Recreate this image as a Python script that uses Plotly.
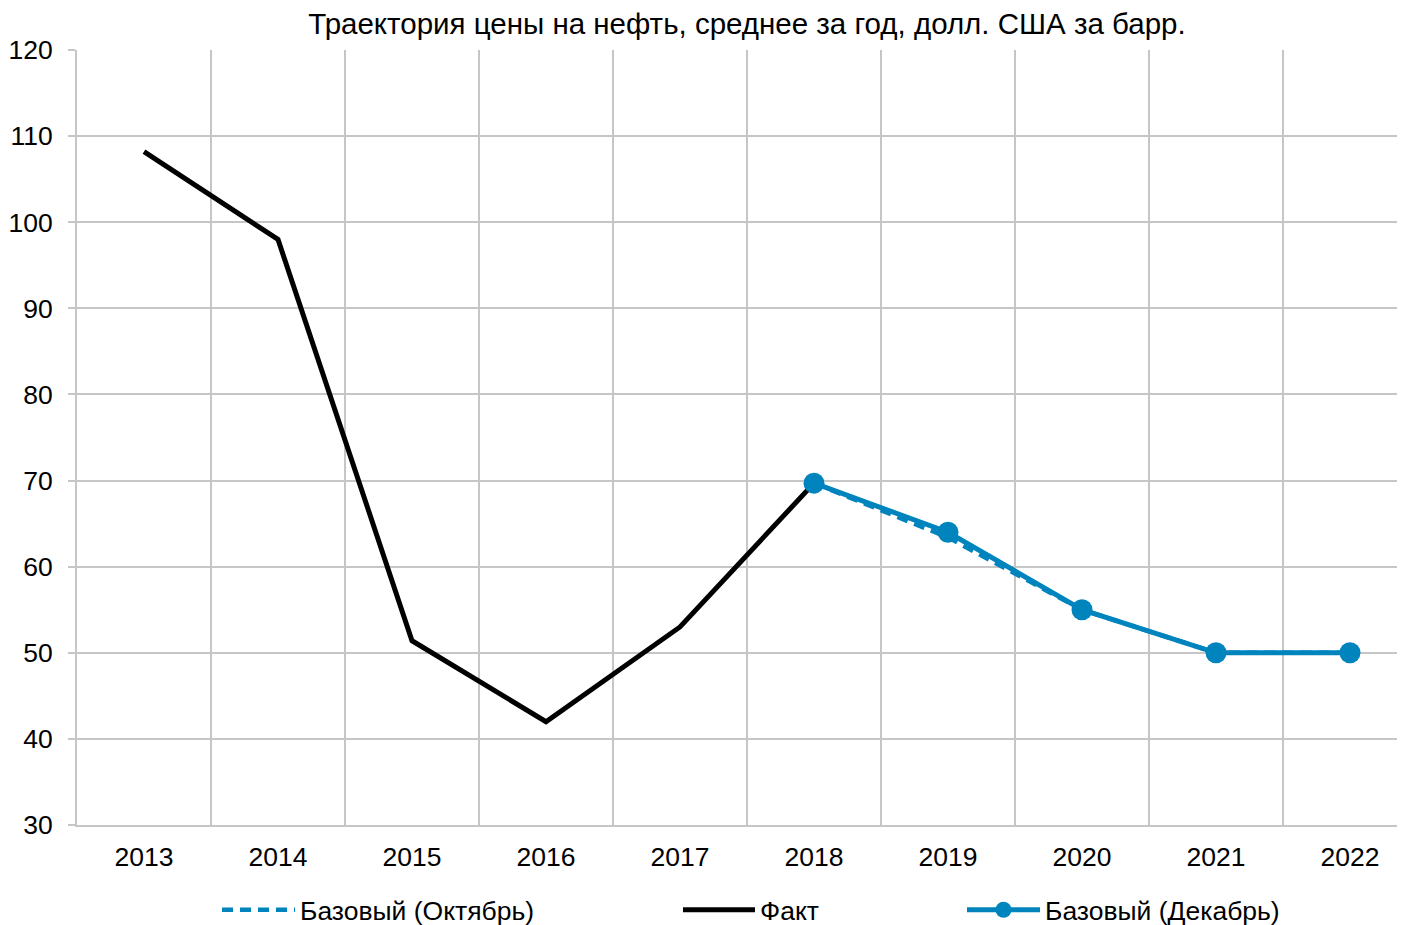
import plotly.graph_objects as go

years = ["2013", "2014", "2015", "2016", "2017", "2018", "2019", "2020", "2021", "2022"]
fact_years = ["2013", "2014", "2015", "2016", "2017", "2018"]
fact_values = [108.2, 98.0, 51.4, 42.0, 53.0, 69.7]
forecast_years = ["2018", "2019", "2020", "2021", "2022"]
oct_values = [69.7, 63.4, 55.0, 50.0, 50.0]
dec_values = [69.7, 64.0, 55.0, 50.0, 50.0]

BLUE = "#0084BD"
GRID = "#C6C6C6"
FONT = "Liberation Sans, Arial, sans-serif"
FS = 26.5
FS_TITLE = 29.5

# the page body has an 8px margin; the figure is sized to fill the rest of the window
OFF = 8
W, H = 1405 - OFF, 925 - OFF
ml, mt, mb = 77 - OFF, 50 - OFF, 100
pw = W - ml
cat = 134.0
xr = [-0.5, -0.5 + pw / cat]

fig = go.Figure()
fig.add_trace(go.Scatter(
    x=forecast_years, y=oct_values, name="Базовый (Октябрь)", mode="lines",
    line=dict(color=BLUE, width=4.5, dash="11px,7px"), legend="legend"))
fig.add_trace(go.Scatter(
    x=fact_years, y=fact_values, name="Факт", mode="lines",
    line=dict(color="black", width=5), legend="legend2"))
fig.add_trace(go.Scatter(
    x=forecast_years, y=dec_values, name="Базовый (Декабрь)", mode="lines+markers",
    line=dict(color=BLUE, width=5), marker=dict(color=BLUE, size=21), legend="legend3"))


def leg(x_page, text_page):
    return dict(orientation="h", xanchor="left", yanchor="middle",
                x=(x_page - OFF - 5) / W, y=(925 - 910) / H,
                xref="container", yref="container",
                itemwidth=max(30, text_page - (x_page - 5) - 10),
                font=dict(family=FONT, size=FS, color="black"),
                bgcolor="rgba(0,0,0,0)")


fig.update_layout(
    width=W, height=H,
    margin=dict(l=ml, r=0, t=mt, b=mb),
    paper_bgcolor="white", plot_bgcolor="white",
    font=dict(family=FONT, size=FS, color="black"),
    title=dict(text="Траектория цены на нефть, среднее за год, долл. США за барр.",
               x=(747 - OFF) / W, xanchor="center", y=1 - (24 - OFF) / H, yanchor="middle",
               xref="container", yref="container",
               font=dict(family=FONT, size=FS_TITLE, color="black")),
    legend=leg(222, 300),
    legend2=leg(683, 760),
    legend3=leg(967, 1045),
    showlegend=True,
)
fig.update_xaxes(type="category", categoryorder="array", categoryarray=years,
                 range=xr, tickson="boundaries", showgrid=True, gridcolor=GRID, gridwidth=2,
                 ticks="", showline=True, linecolor=GRID, linewidth=2,
                 tickfont=dict(family=FONT, size=FS, color="black"), ticklabelstandoff=7,
                 zeroline=False)
fig.update_yaxes(range=[30, 120], dtick=10, tick0=30, showgrid=True, gridcolor=GRID, gridwidth=2,
                 ticks="outside", ticklen=7, tickcolor=GRID, tickwidth=2,
                 showline=True, linecolor=GRID, linewidth=2,
                 tickfont=dict(family=FONT, size=FS, color="black"), ticklabelstandoff=10,
                 zeroline=False)

fig.write_html("out.html")
